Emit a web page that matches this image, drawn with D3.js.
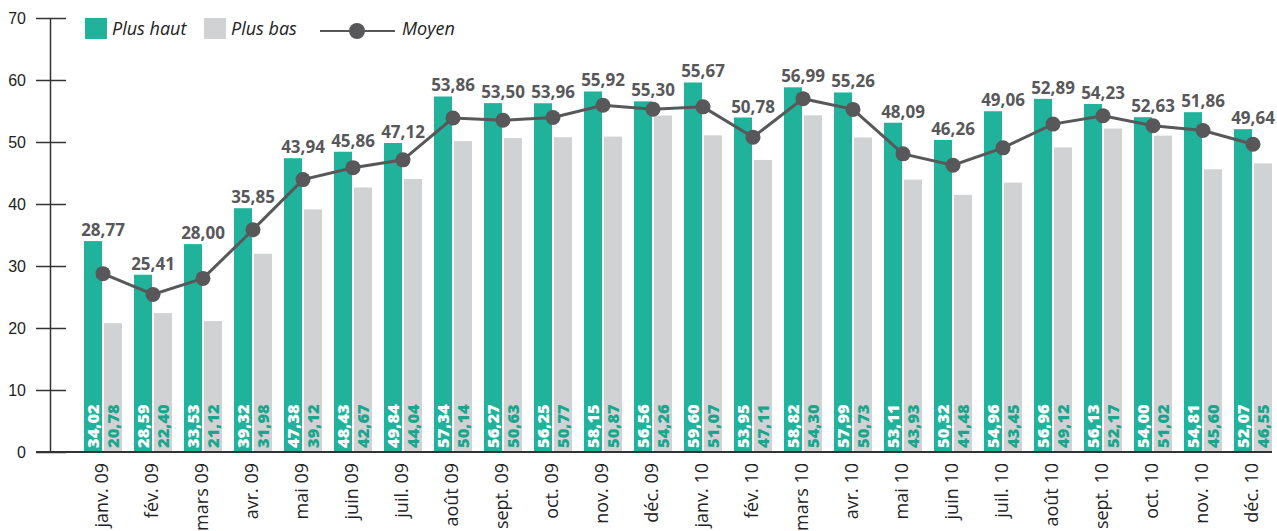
<!DOCTYPE html>
<html>
<head>
<meta charset="utf-8">
<script src="https://cdn.jsdelivr.net/npm/d3@7"></script>
<style>
    body { margin: 0; background: #fff; }
    svg { display: block; }
    .tick-y { font-family: "Liberation Sans", Arial, sans-serif; font-size: 16px; fill: #222; }
    .cat { font-family: "Open Sans", sans-serif; font-size: 18px; fill: #222; }
    .val { font-family: "Open Sans", sans-serif; font-size: 16.5px; font-weight: 800; }
    .avg { font-family: "Open Sans", sans-serif; font-size: 17px; font-weight: bold; fill: #58585a; }
    .legend { font-family: "Open Sans", sans-serif; font-size: 18px; font-style: italic; fill: #222; }
</style>
</head>
<body>
<div id="chart"></div>
<script>
const categories = [
    "janv. 09", "fév. 09", "mars 09", "avr. 09", "mai 09", "juin 09",
    "juil. 09", "août 09", "sept. 09", "oct. 09", "nov. 09", "déc. 09",
    "janv. 10", "fév. 10", "mars 10", "avr. 10", "mai 10", "juin 10",
    "juil. 10", "août 10", "sept. 10", "oct. 10", "nov. 10", "déc. 10"
];
const plusHaut = [
    34.02, 28.59, 33.53, 39.32, 47.38, 48.43, 49.84, 57.34, 56.27, 56.25, 58.15, 56.56,
    59.60, 53.95, 58.82, 57.99, 53.11, 50.32, 54.96, 56.96, 56.13, 54.00, 54.81, 52.07
];
const plusBas = [
    20.78, 22.40, 21.12, 31.98, 39.12, 42.67, 44.04, 50.14, 50.63, 50.77, 50.87, 54.26,
    51.07, 47.11, 54.30, 50.73, 43.93, 41.48, 43.45, 49.12, 52.17, 51.02, 45.60, 46.55
];
const moyen = [
    28.77, 25.41, 28.00, 35.85, 43.94, 45.86, 47.12, 53.86, 53.50, 53.96, 55.92, 55.30,
    55.67, 50.78, 56.99, 55.26, 48.09, 46.26, 49.06, 52.89, 54.23, 52.63, 51.86, 49.64
];
const yTicks = [0, 10, 20, 30, 40, 50, 60, 70];

const green = "#20b29a";
const grey = "#d1d2d4";
const dark = "#58585a";

const width = 1277, height = 531;
const fmt = v => d3.format(".2f")(v).replace(".", ",");

const svg = d3.select("#chart").append("svg").attr("width", width).attr("height", height);

const y = d3.scaleLinear().domain([0, 70]).range([452, 18]);
const x = d3.scaleBand().domain(categories).range([78, 1278]).paddingInner(0.24).paddingOuter(0.12);
const xs = d3.scaleBand().domain(["haut", "bas"]).range([0, x.bandwidth()]).paddingInner(0.1);

// y axis
const yAxis = svg.append("g").attr("transform", "translate(50,0)")
    .call(d3.axisLeft(y).tickValues(yTicks).tickSize(0).tickPadding(24));
yAxis.select(".domain").attr("stroke", "#333").attr("stroke-width", 1.5);
yAxis.selectAll(".tick text").attr("class", "tick-y").attr("fill", null);
yAxis.selectAll(".tick").append("line")
    .attr("x1", -14).attr("x2", 16).attr("stroke", "#333").attr("stroke-width", 1.5);

// bars
const rows = categories.map((c, i) => ({c: c, haut: plusHaut[i], bas: plusBas[i], moy: moyen[i]}));
const groups = svg.append("g").selectAll("g").data(rows).join("g")
    .attr("transform", d => `translate(${x(d.c)},0)`);

groups.append("rect")
    .attr("x", xs("haut")).attr("width", xs.bandwidth())
    .attr("y", d => y(d.haut)).attr("height", d => y(0) - y(d.haut))
    .attr("fill", green);
groups.append("rect")
    .attr("x", xs("bas")).attr("width", xs.bandwidth())
    .attr("y", d => y(d.bas)).attr("height", d => y(0) - y(d.bas))
    .attr("fill", grey);

// values inside bars
groups.append("text").attr("class", "val")
    .attr("transform", d => `translate(${xs("haut") + xs.bandwidth() / 2 + 6},${y(0) - 4}) rotate(-90)`)
    .attr("fill", "#fff").text(d => fmt(d.haut));
groups.append("text").attr("class", "val")
    .attr("transform", d => `translate(${xs("bas") + xs.bandwidth() / 2 + 6},${y(0) - 4}) rotate(-90)`)
    .attr("fill", "#1aa68d").text(d => fmt(d.bas));

// x axis line
svg.append("line").attr("x1", 36).attr("x2", 1272).attr("y1", y(0)).attr("y2", y(0))
    .attr("stroke", "#333").attr("stroke-width", 2);

// category labels
svg.append("g").selectAll("text").data(categories).join("text")
    .attr("class", "cat")
    .attr("text-anchor", "end")
    .attr("transform", d => `translate(${x(d) + x.bandwidth() / 2 + 5},${y(0) + 11}) rotate(-90)`)
    .text(d => d);

// average line
const cx = d => x(d.c) + x.bandwidth() / 2;
svg.append("path").datum(rows)
    .attr("fill", "none").attr("stroke", dark).attr("stroke-width", 3)
    .attr("d", d3.line().x(cx).y(d => y(d.moy)));
svg.append("g").selectAll("circle").data(rows).join("circle")
    .attr("cx", cx).attr("cy", d => y(d.moy)).attr("r", 7.5).attr("fill", dark);

svg.append("g").selectAll("text").data(rows).join("text")
    .attr("class", "avg").attr("text-anchor", "middle")
    .attr("x", cx).attr("y", d => y(d.haut) - 5)
    .text(d => fmt(d.moy));

// legend
const lg = svg.append("g");
lg.append("rect").attr("x", 85).attr("y", 18).attr("width", 22).attr("height", 21).attr("fill", green);
lg.append("text").attr("class", "legend").attr("x", 112).attr("y", 35).text("Plus haut");
lg.append("rect").attr("x", 204).attr("y", 18).attr("width", 22).attr("height", 21).attr("fill", grey);
lg.append("text").attr("class", "legend").attr("x", 231).attr("y", 35).text("Plus bas");
lg.append("line").attr("x1", 320).attr("x2", 395).attr("y1", 31).attr("y2", 31)
    .attr("stroke", dark).attr("stroke-width", 2);
lg.append("circle").attr("cx", 357).attr("cy", 31).attr("r", 8).attr("fill", dark);
lg.append("text").attr("class", "legend").attr("x", 402).attr("y", 35).text("Moyen");
</script>
</body>
</html>
